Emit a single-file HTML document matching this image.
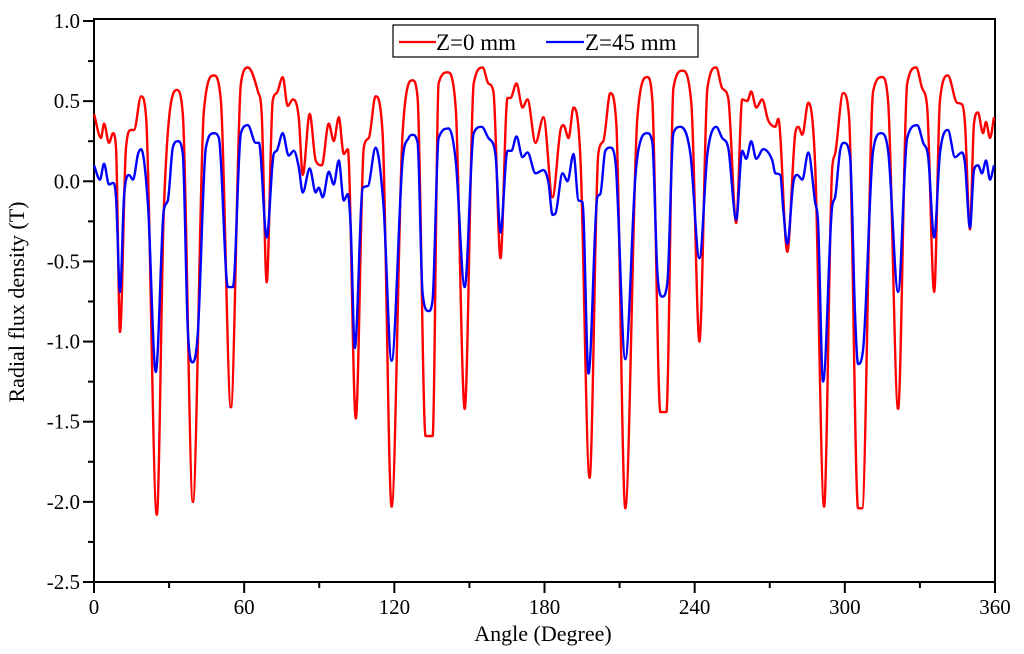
<!DOCTYPE html>
<html><head><meta charset="utf-8"><style>
html,body{margin:0;padding:0;background:#fff;}
svg{display:block;font-family:"Liberation Serif",serif;}
</style></head><body>
<svg id="chart" width="1024" height="654" viewBox="0 0 1024 654">
<g id="axes"></g>
<g id="series"></g>
<text x="543" y="641" font-size="22" text-anchor="middle">Angle (Degree)</text>
<text transform="translate(24,302) rotate(-90)" font-size="22" text-anchor="middle">Radial flux density (T)</text>
<g>
<rect x="393" y="25" width="305" height="32" fill="#fff" stroke="#000" stroke-width="1.2"/>
<g>
<line x1="399" y1="42" x2="436" y2="42" stroke="#f00" stroke-width="2.2"/>
<text x="436" y="50" font-size="23">Z=0 mm</text></g>
<g>
<line x1="546" y1="42" x2="584" y2="42" stroke="#00f" stroke-width="2.2"/>
<text x="585" y="50" font-size="23">Z=45 mm</text></g>
</g>
</svg>
<script>
const xTicks = [0, 60, 120, 180, 240, 300, 360];
const yTicks = [1.0, 0.5, 0.0, -0.5, -1.0, -1.5, -2.0, -2.5];
const redAngles = [0,2.8,4.0,6.0,7.6,8.8,10.4,12.8,14.8,16.0,18.8,20.8,25.1,27.9,33.1,35.5,39.5,43.9,47.9,50.7,54.7,58.7,61.5,65.5,67.0,69.0,71.4,73.0,75.4,77.4,79.4,81.8,83.4,86.2,88.6,91.0,93.8,95.8,97.8,99.8,101.4,104.6,107.8,109.8,112.5,115.3,118.9,123.3,127.3,129.3,132.5,135.3,137.7,141.3,144.5,148.1,151.7,155.3,157.6,159.6,162.4,165.2,166.4,168.8,171.2,173.2,176.4,179.6,183.2,186.4,187.6,189.6,191.6,194.4,198.0,201.5,203.5,206.3,208.7,212.3,217.1,221.1,223.1,226.3,228.7,231.5,235.1,238.7,241.9,245.1,248.6,251.0,253.4,256.6,259.0,261.0,262.6,264.6,267.0,269.4,272.2,273.4,277.0,280.2,281.4,283.0,285.4,288.1,291.7,294.9,296.1,299.3,301.7,305.3,306.9,311.3,314.9,317.3,321.3,324.9,328.5,330.9,332.9,335.7,338.0,341.2,344.8,346.8,348.0,350.0,351.6,353.2,355.2,356.4,358.0,359.6];
const redValues = [0.42,0.27,0.36,0.24,0.30,0.21,-0.94,0.21,0.32,0.32,0.53,0.40,-2.08,-0.18,0.57,0.42,-2.0,0.44,0.66,0.50,-1.41,0.61,0.71,0.56,0.42,-0.63,0.50,0.55,0.65,0.47,0.51,0.40,0.04,0.42,0.13,0.10,0.36,0.25,0.40,0.17,0.20,-1.48,0.21,0.27,0.53,0.30,-2.03,0.30,0.63,0.52,-1.59,-1.59,0.61,0.68,0.46,-1.42,0.61,0.71,0.61,0.56,-0.48,0.52,0.52,0.61,0.46,0.51,0.24,0.40,-0.10,0.32,0.35,0.27,0.46,0.13,-1.85,0.17,0.25,0.55,0.36,-2.04,0.40,0.65,0.50,-1.44,-1.44,0.58,0.69,0.48,-1.0,0.58,0.71,0.58,0.52,-0.26,0.51,0.50,0.56,0.46,0.51,0.38,0.34,0.39,-0.44,0.30,0.34,0.29,0.49,0.11,-2.03,0.07,0.17,0.55,0.40,-2.04,-2.04,0.56,0.65,0.50,-1.42,0.61,0.71,0.58,0.46,-0.69,0.50,0.66,0.49,0.48,0.36,-0.30,0.36,0.43,0.30,0.37,0.27,0.40];
const blueAngles = [0,2.4,4.0,6.0,7.6,8.8,10.4,12.0,14.0,15.6,17.6,18.8,21.6,24.7,27.9,29.5,31.5,33.5,35.5,37.5,39.5,41.5,44.7,47.9,49.9,53.5,55.5,58.7,61.5,64.6,65.9,69.0,71.8,73.0,75.4,77.8,79.8,81.8,83.4,86.2,88.6,89.8,91.4,93.8,95.8,97.8,99.8,101.4,102.6,104.2,107.4,109.4,112.5,115.7,118.9,123.3,125.7,127.3,129.3,131.3,133.7,135.3,137.7,141.7,144.5,148.1,151.7,154.9,157.6,160.4,162.4,165.2,166.8,168.8,171.2,173.2,176.4,179.6,181.6,183.2,184.4,187.2,189.2,191.6,193.6,195.2,197.6,201.1,202.3,204.3,206.3,208.3,212.3,216.3,218.3,221.1,223.1,225.1,227.1,229.1,231.5,234.3,238.3,241.9,245.1,248.6,251.0,253.4,256.6,259.0,260.6,262.6,264.6,267.4,271.0,272.2,274.2,275.4,277.0,279.4,281.0,283.0,285.4,288.1,289.3,291.3,294.9,296.1,298.1,299.7,302.1,304.1,305.3,307.3,311.3,314.5,317.3,321.3,324.9,328.9,331.3,333.3,335.7,338.0,341.2,344.0,346.8,348.0,350.0,351.6,353.2,354.8,356.4,358.0,359.6];
const blueValues = [0.10,0.01,0.11,-0.02,-0.01,-0.10,-0.69,-0.10,0.04,0.01,0.17,0.20,-0.16,-1.19,-0.18,-0.12,0.21,0.25,0.17,-0.94,-1.13,-0.94,0.21,0.30,0.27,-0.66,-0.66,0.30,0.35,0.24,0.24,-0.35,0.17,0.19,0.30,0.16,0.19,0.09,-0.07,0.08,-0.07,-0.04,-0.10,0.06,-0.02,0.13,-0.12,-0.08,-0.30,-1.04,-0.04,-0.03,0.21,-0.16,-1.12,0.13,0.27,0.29,0.24,-0.70,-0.81,-0.74,0.27,0.33,0.13,-0.66,0.30,0.34,0.27,0.17,-0.32,0.19,0.19,0.28,0.15,0.18,0.05,0.07,-0.01,-0.21,-0.20,0.05,0.0,0.17,-0.12,-0.13,-1.20,-0.10,-0.08,0.19,0.21,0.13,-1.11,0.03,0.25,0.30,0.24,-0.57,-0.72,-0.63,0.30,0.34,0.17,-0.48,0.17,0.34,0.27,0.21,-0.24,0.19,0.14,0.25,0.14,0.20,0.13,0.05,0.04,-0.18,-0.39,-0.01,0.04,0.01,0.18,-0.13,-0.26,-1.25,-0.16,-0.10,0.19,0.24,0.15,-0.84,-1.14,-1.05,0.19,0.30,0.19,-0.69,0.27,0.35,0.24,0.15,-0.35,0.17,0.32,0.15,0.18,0.11,-0.29,0.07,0.10,0.05,0.13,0.01,0.10];

const NS = 'http://www.w3.org/2000/svg';
const X0 = 94, X1 = 995, Y0 = 582, Y1 = 21;
function xs(a){ return X0 + (a - 0) / 360 * (X1 - X0); }
function ys(v){ return Y0 + (v - (-2.5)) / 3.5 * (Y1 - Y0); }
function mk(tag, attrs, parent){ const e = document.createElementNS(NS, tag); for (const k in attrs) e.setAttribute(k, attrs[k]); parent.appendChild(e); return e; }

const axes = document.getElementById('axes');
const frame = mk('rect', {x:X0, y:Y1-2, width:X1-X0, height:Y0-Y1+2, fill:'none', stroke:'#000', 'stroke-width':2}, axes);



yTicks.forEach((v, i) => {
  const y = ys(v);
  const t = mk('line', {x1:X0-11, x2:X0, y1:y, y2:y, stroke:'#000', 'stroke-width':2}, axes);
  
  
  if (i < yTicks.length - 1) {
    const ym = ys(v - 0.25);
    const m = mk('line', {x1:X0-6, x2:X0, y1:ym, y2:ym, stroke:'#000', 'stroke-width':2}, axes);
    
    
  }
  const l = mk('text', {x:X0-14, y:y+7, 'font-size':21, 'text-anchor':'end'}, axes);
  l.textContent = v.toFixed(1);
  
  
});
xTicks.forEach((a, i) => {
  const x = xs(a);
  const t = mk('line', {x1:x, x2:x, y1:Y0, y2:Y0+11, stroke:'#000', 'stroke-width':2}, axes);
  
  
  if (i < xTicks.length - 1) {
    const xm = xs(a + 30);
    const m = mk('line', {x1:xm, x2:xm, y1:Y0, y2:Y0+6, stroke:'#000', 'stroke-width':2}, axes);
    
    
  }
  const l = mk('text', {x:x, y:Y0+32, 'font-size':21, 'text-anchor':'middle'}, axes);
  l.textContent = String(a);
  
  
});

const series = document.getElementById('series');
function monotonePath(px, py){
  const n = px.length, m = new Array(n), dl = [];
  for (let i = 0; i < n - 1; i++) dl.push((py[i+1] - py[i]) / ((px[i+1] - px[i]) || 1e-6));
  m[0] = dl[0]; m[n-1] = dl[n-2];
  for (let i = 1; i < n - 1; i++) m[i] = (dl[i-1] * dl[i] <= 0) ? 0 : (dl[i-1] + dl[i]) / 2;
  for (let i = 0; i < n - 1; i++) {
    if (dl[i] === 0) { m[i] = 0; m[i+1] = 0; continue; }
    const a = m[i] / dl[i], b = m[i+1] / dl[i], s = a*a + b*b;
    if (s > 9) { const t = 3 / Math.sqrt(s); m[i] = t*a*dl[i]; m[i+1] = t*b*dl[i]; }
  }
  let d = 'M' + px[0].toFixed(1) + ',' + py[0].toFixed(1);
  for (let i = 0; i < n - 1; i++) {
    const h = (px[i+1] - px[i]) / 3;
    d += ' C' + (px[i]+h).toFixed(1) + ',' + (py[i]+m[i]*h).toFixed(1) + ' ' + (px[i+1]-h).toFixed(1) + ',' + (py[i+1]-m[i+1]*h).toFixed(1) + ' ' + px[i+1].toFixed(1) + ',' + py[i+1].toFixed(1);
  }
  return d;
}
function draw(angles, values, color, name){
  const px = angles.map(xs), py = values.map(ys);
  const p = mk('path', {d:monotonePath(px, py), fill:'none', stroke:color, 'stroke-width':2.4, 'stroke-linejoin':'round'}, series);
  
  
}
draw(redAngles, redValues, '#f00', 'series-z0-line');
draw(blueAngles, blueValues, '#00f', 'series-z45-line');
</script>
</body></html>
